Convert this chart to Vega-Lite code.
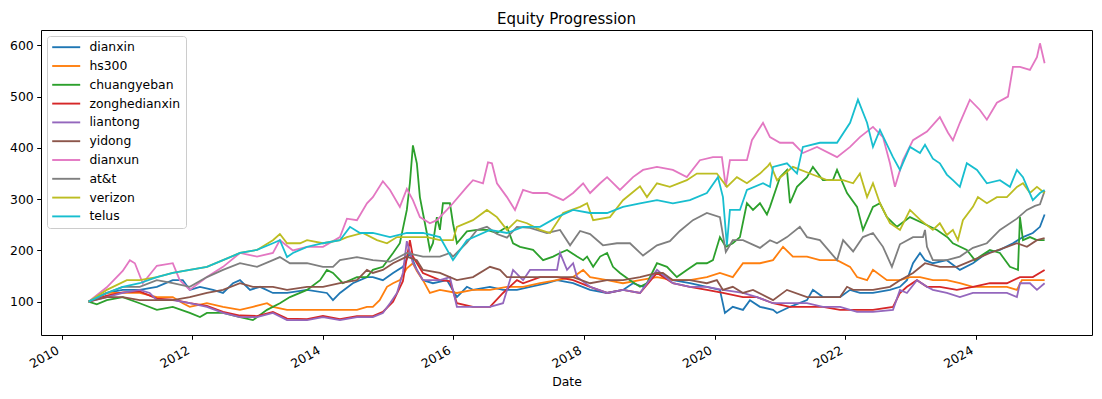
{
  "$schema": "https://vega.github.io/schema/vega-lite/v6.json",
  "width": 1051,
  "height": 305,
  "autosize": {"type": "none"},
  "padding": {"left": 41, "top": 30, "right": 10, "bottom": 64},
  "background": "white",
  "title": {"text": "Equity Progression", "fontSize": 15, "font": "DejaVu Sans", "fontWeight": "normal", "color": "black", "anchor": "middle", "baseline": "bottom", "offset": -12},
  "config": {
    "font": "DejaVu Sans",
    "view": {"stroke": "black", "strokeWidth": 1},
    "axis": {"grid": false, "domain": false, "tickColor": "black", "tickSize": 4.3, "tickWidth": 1, "labelColor": "black", "labelFontSize": 12.4, "labelFont": "DejaVu Sans", "titleColor": "black", "titleFontSize": 12.4, "titleFontWeight": "normal", "titleFont": "DejaVu Sans"},
    "legend": {"orient": "top-left", "offset": 6, "title": null, "strokeColor": "#cccccc", "fillColor": "rgba(255,255,255,0.8)", "cornerRadius": 3, "padding": 5, "symbolType": "M-1.2,0H4.4", "symbolSize": 100, "symbolStrokeWidth": 1.9, "labelFontSize": 12.4, "labelFont": "DejaVu Sans", "labelColor": "black", "labelOffset": 25, "rowPadding": 5.8}
  },
  "encoding": {
    "x": {"field": "Date", "type": "temporal", "title": "Date",
      "scale": {"domain": [{"year": 2009, "month": 9, "date": 8}, {"year": 2025, "month": 10, "date": 12}]},
      "axis": {"values": [{"year": 2010, "month": 1, "date": 1}, {"year": 2012, "month": 1, "date": 1}, {"year": 2014, "month": 1, "date": 1}, {"year": 2016, "month": 1, "date": 1}, {"year": 2018, "month": 1, "date": 1}, {"year": 2020, "month": 1, "date": 1}, {"year": 2022, "month": 1, "date": 1}, {"year": 2024, "month": 1, "date": 1}], "format": "%Y", "labelAngle": -30, "labelAlign": "right", "labelBaseline": "top", "labelPadding": 4.3, "labelOffset": -7, "labelFlush": false, "labelOverlap": false, "titlePadding": 5}},
    "y": {"field": "v", "type": "quantitative", "title": null,
      "scale": {"domain": [35, 630], "nice": false, "zero": false},
      "axis": {"values": [100, 200, 300, 400, 500, 600], "labelPadding": 3.5}}
  },
  "layer": [
    {"data": {"name": "dianxin"}, "mark": {"type": "line", "strokeWidth": 1.8},
     "encoding": {"color": {"datum": "dianxin", "type": "nominal",
       "scale": {"domain": ["dianxin", "hs300", "chuangyeban", "zonghedianxin", "liantong", "yidong", "dianxun", "at&t", "verizon", "telus"],
                 "range": ["#1f77b4", "#ff7f0e", "#2ca02c", "#d62728", "#9467bd", "#8c564b", "#e377c2", "#7f7f7f", "#bcbd22", "#17becf"]}}}},
    {"data": {"name": "hs300"}, "mark": {"type": "line", "strokeWidth": 1.8}, "encoding": {"color": {"datum": "hs300", "type": "nominal"}}},
    {"data": {"name": "chuangyeban"}, "mark": {"type": "line", "strokeWidth": 1.8}, "encoding": {"color": {"datum": "chuangyeban", "type": "nominal"}}},
    {"data": {"name": "zonghedianxin"}, "mark": {"type": "line", "strokeWidth": 1.8}, "encoding": {"color": {"datum": "zonghedianxin", "type": "nominal"}}},
    {"data": {"name": "liantong"}, "mark": {"type": "line", "strokeWidth": 1.8}, "encoding": {"color": {"datum": "liantong", "type": "nominal"}}},
    {"data": {"name": "yidong"}, "mark": {"type": "line", "strokeWidth": 1.8}, "encoding": {"color": {"datum": "yidong", "type": "nominal"}}},
    {"data": {"name": "dianxun"}, "mark": {"type": "line", "strokeWidth": 1.8}, "encoding": {"color": {"datum": "dianxun", "type": "nominal"}}},
    {"data": {"name": "att"}, "mark": {"type": "line", "strokeWidth": 1.8}, "encoding": {"color": {"datum": "at&t", "type": "nominal"}}},
    {"data": {"name": "verizon"}, "mark": {"type": "line", "strokeWidth": 1.8}, "encoding": {"color": {"datum": "verizon", "type": "nominal"}}},
    {"data": {"name": "telus"}, "mark": {"type": "line", "strokeWidth": 1.8}, "encoding": {"color": {"datum": "telus", "type": "nominal"}}}
  ],
  "datasets": {
    "dianxin": [
      {"Date": "2010-06-01", "v": 100}, {"Date": "2010-09-11", "v": 117}, {"Date": "2010-12-09", "v": 123}, {"Date": "2011-03-14", "v": 123}, {"Date": "2011-06-18", "v": 129}, {"Date": "2011-09-15", "v": 142}, {"Date": "2011-11-10", "v": 142}, {"Date": "2011-12-19", "v": 123}, {"Date": "2012-02-14", "v": 129}, {"Date": "2012-04-27", "v": 123}, {"Date": "2012-06-22", "v": 117}, {"Date": "2012-08-17", "v": 136}, {"Date": "2012-09-25", "v": 142}, {"Date": "2012-11-20", "v": 123}, {"Date": "2013-01-15", "v": 129}, {"Date": "2013-03-28", "v": 117}, {"Date": "2013-06-15", "v": 117}, {"Date": "2013-10-05", "v": 123}, {"Date": "2014-01-24", "v": 117}, {"Date": "2014-02-27", "v": 103}, {"Date": "2014-04-07", "v": 117}, {"Date": "2014-06-18", "v": 136}, {"Date": "2014-09-05", "v": 148}, {"Date": "2014-10-08", "v": 148}, {"Date": "2014-12-03", "v": 142}, {"Date": "2015-01-29", "v": 156}, {"Date": "2015-03-25", "v": 168}, {"Date": "2015-05-03", "v": 195}, {"Date": "2015-06-11", "v": 162}, {"Date": "2015-07-15", "v": 142}, {"Date": "2015-09-09", "v": 136}, {"Date": "2015-11-26", "v": 142}, {"Date": "2016-01-21", "v": 109}, {"Date": "2016-03-17", "v": 129}, {"Date": "2016-04-20", "v": 123}, {"Date": "2016-07-24", "v": 129}, {"Date": "2016-10-05", "v": 123}, {"Date": "2016-12-22", "v": 123}, {"Date": "2017-03-05", "v": 129}, {"Date": "2017-06-08", "v": 136}, {"Date": "2017-08-03", "v": 142}, {"Date": "2017-11-01", "v": 136}, {"Date": "2018-02-04", "v": 123}, {"Date": "2018-05-10", "v": 117}, {"Date": "2018-08-07", "v": 123}, {"Date": "2018-10-02", "v": 136}, {"Date": "2018-11-27", "v": 129}, {"Date": "2019-02-13", "v": 156}, {"Date": "2019-05-13", "v": 142}, {"Date": "2019-08-16", "v": 136}, {"Date": "2019-11-19", "v": 129}, {"Date": "2020-01-31", "v": 123}, {"Date": "2020-02-28", "v": 78}, {"Date": "2020-04-12", "v": 90}, {"Date": "2020-06-08", "v": 84}, {"Date": "2020-07-17", "v": 103}, {"Date": "2020-09-11", "v": 90}, {"Date": "2020-11-23", "v": 84}, {"Date": "2020-12-15", "v": 78}, {"Date": "2021-02-26", "v": 90}, {"Date": "2021-06-01", "v": 103}, {"Date": "2021-07-04", "v": 123}, {"Date": "2021-08-29", "v": 109}, {"Date": "2021-12-03", "v": 109}, {"Date": "2022-01-28", "v": 123}, {"Date": "2022-03-24", "v": 117}, {"Date": "2022-06-05", "v": 117}, {"Date": "2022-09-08", "v": 123}, {"Date": "2022-11-03", "v": 129}, {"Date": "2022-12-12", "v": 142}, {"Date": "2023-01-15", "v": 175}, {"Date": "2023-02-23", "v": 195}, {"Date": "2023-03-23", "v": 181}, {"Date": "2023-05-06", "v": 175}, {"Date": "2023-07-23", "v": 181}, {"Date": "2023-10-04", "v": 162}, {"Date": "2023-12-16", "v": 175}, {"Date": "2024-03-03", "v": 195}, {"Date": "2024-05-15", "v": 201}, {"Date": "2024-07-27", "v": 214}, {"Date": "2024-09-21", "v": 226}, {"Date": "2024-11-15", "v": 234}, {"Date": "2024-12-25", "v": 246}, {"Date": "2025-01-20", "v": 270}
    ],
    "hs300": [
      {"Date": "2010-06-01", "v": 100}, {"Date": "2010-09-11", "v": 117}, {"Date": "2010-12-09", "v": 117}, {"Date": "2011-03-14", "v": 117}, {"Date": "2011-06-18", "v": 109}, {"Date": "2011-09-15", "v": 109}, {"Date": "2011-11-10", "v": 97}, {"Date": "2011-12-19", "v": 90}, {"Date": "2012-03-24", "v": 97}, {"Date": "2012-06-22", "v": 90}, {"Date": "2012-09-25", "v": 84}, {"Date": "2012-12-06", "v": 90}, {"Date": "2013-02-23", "v": 97}, {"Date": "2013-03-28", "v": 90}, {"Date": "2013-06-15", "v": 84}, {"Date": "2013-10-05", "v": 84}, {"Date": "2014-01-02", "v": 84}, {"Date": "2014-04-07", "v": 84}, {"Date": "2014-07-11", "v": 84}, {"Date": "2014-09-05", "v": 90}, {"Date": "2014-10-08", "v": 90}, {"Date": "2014-11-15", "v": 103}, {"Date": "2014-12-26", "v": 129}, {"Date": "2015-01-29", "v": 136}, {"Date": "2015-03-08", "v": 142}, {"Date": "2015-04-16", "v": 165}, {"Date": "2015-05-20", "v": 175}, {"Date": "2015-06-11", "v": 160}, {"Date": "2015-07-15", "v": 142}, {"Date": "2015-08-23", "v": 117}, {"Date": "2015-10-18", "v": 123}, {"Date": "2016-01-21", "v": 117}, {"Date": "2016-04-20", "v": 123}, {"Date": "2016-07-24", "v": 123}, {"Date": "2016-10-27", "v": 129}, {"Date": "2017-01-25", "v": 129}, {"Date": "2017-04-30", "v": 136}, {"Date": "2017-08-03", "v": 142}, {"Date": "2017-11-01", "v": 148}, {"Date": "2017-12-27", "v": 162}, {"Date": "2018-02-04", "v": 148}, {"Date": "2018-05-10", "v": 142}, {"Date": "2018-08-07", "v": 136}, {"Date": "2018-11-10", "v": 142}, {"Date": "2019-02-13", "v": 148}, {"Date": "2019-05-13", "v": 142}, {"Date": "2019-08-16", "v": 142}, {"Date": "2019-11-19", "v": 148}, {"Date": "2020-01-31", "v": 156}, {"Date": "2020-04-12", "v": 148}, {"Date": "2020-06-08", "v": 175}, {"Date": "2020-09-11", "v": 175}, {"Date": "2020-11-23", "v": 181}, {"Date": "2021-01-18", "v": 207}, {"Date": "2021-03-14", "v": 188}, {"Date": "2021-06-01", "v": 188}, {"Date": "2021-08-12", "v": 181}, {"Date": "2021-11-16", "v": 181}, {"Date": "2022-01-28", "v": 168}, {"Date": "2022-03-08", "v": 148}, {"Date": "2022-05-03", "v": 142}, {"Date": "2022-06-05", "v": 162}, {"Date": "2022-08-22", "v": 142}, {"Date": "2022-11-03", "v": 142}, {"Date": "2022-12-29", "v": 148}, {"Date": "2023-02-23", "v": 148}, {"Date": "2023-05-06", "v": 142}, {"Date": "2023-07-23", "v": 142}, {"Date": "2023-10-04", "v": 136}, {"Date": "2023-12-16", "v": 129}, {"Date": "2024-03-20", "v": 129}, {"Date": "2024-06-23", "v": 129}, {"Date": "2024-08-18", "v": 123}, {"Date": "2024-09-15", "v": 142}, {"Date": "2024-11-15", "v": 142}, {"Date": "2025-01-20", "v": 142}
    ],
    "chuangyeban": [
      {"Date": "2010-06-01", "v": 100}, {"Date": "2010-07-17", "v": 95}, {"Date": "2010-09-11", "v": 103}, {"Date": "2010-12-09", "v": 109}, {"Date": "2011-03-14", "v": 97}, {"Date": "2011-06-18", "v": 84}, {"Date": "2011-09-15", "v": 90}, {"Date": "2011-12-19", "v": 78}, {"Date": "2012-02-14", "v": 70}, {"Date": "2012-03-24", "v": 78}, {"Date": "2012-06-22", "v": 78}, {"Date": "2012-09-25", "v": 70}, {"Date": "2012-12-06", "v": 64}, {"Date": "2013-02-23", "v": 84}, {"Date": "2013-05-06", "v": 97}, {"Date": "2013-07-01", "v": 109}, {"Date": "2013-10-05", "v": 123}, {"Date": "2013-12-17", "v": 142}, {"Date": "2014-01-24", "v": 162}, {"Date": "2014-02-27", "v": 156}, {"Date": "2014-04-23", "v": 136}, {"Date": "2014-07-11", "v": 148}, {"Date": "2014-09-05", "v": 148}, {"Date": "2014-10-08", "v": 162}, {"Date": "2014-12-03", "v": 168}, {"Date": "2015-01-29", "v": 195}, {"Date": "2015-03-08", "v": 214}, {"Date": "2015-04-16", "v": 279}, {"Date": "2015-05-03", "v": 331}, {"Date": "2015-05-20", "v": 405}, {"Date": "2015-06-11", "v": 370}, {"Date": "2015-06-28", "v": 304}, {"Date": "2015-07-15", "v": 273}, {"Date": "2015-08-06", "v": 234}, {"Date": "2015-08-23", "v": 201}, {"Date": "2015-09-09", "v": 214}, {"Date": "2015-10-01", "v": 265}, {"Date": "2015-10-18", "v": 240}, {"Date": "2015-11-04", "v": 292}, {"Date": "2015-12-13", "v": 292}, {"Date": "2015-12-30", "v": 253}, {"Date": "2016-01-21", "v": 214}, {"Date": "2016-03-17", "v": 237}, {"Date": "2016-05-12", "v": 240}, {"Date": "2016-07-07", "v": 240}, {"Date": "2016-09-01", "v": 234}, {"Date": "2016-10-27", "v": 246}, {"Date": "2016-11-30", "v": 214}, {"Date": "2017-01-08", "v": 207}, {"Date": "2017-03-22", "v": 201}, {"Date": "2017-05-17", "v": 181}, {"Date": "2017-07-12", "v": 188}, {"Date": "2017-08-20", "v": 195}, {"Date": "2017-09-28", "v": 201}, {"Date": "2017-11-23", "v": 188}, {"Date": "2017-12-27", "v": 181}, {"Date": "2018-01-18", "v": 188}, {"Date": "2018-02-21", "v": 168}, {"Date": "2018-04-01", "v": 188}, {"Date": "2018-05-10", "v": 195}, {"Date": "2018-06-12", "v": 168}, {"Date": "2018-07-21", "v": 156}, {"Date": "2018-09-15", "v": 142}, {"Date": "2018-11-10", "v": 129}, {"Date": "2018-12-19", "v": 136}, {"Date": "2019-02-13", "v": 175}, {"Date": "2019-04-10", "v": 168}, {"Date": "2019-06-04", "v": 148}, {"Date": "2019-07-30", "v": 162}, {"Date": "2019-09-24", "v": 175}, {"Date": "2019-11-19", "v": 175}, {"Date": "2019-12-23", "v": 181}, {"Date": "2020-01-31", "v": 226}, {"Date": "2020-03-04", "v": 207}, {"Date": "2020-04-12", "v": 214}, {"Date": "2020-05-22", "v": 226}, {"Date": "2020-06-30", "v": 292}, {"Date": "2020-08-03", "v": 279}, {"Date": "2020-09-11", "v": 292}, {"Date": "2020-10-20", "v": 270}, {"Date": "2020-11-06", "v": 285}, {"Date": "2021-01-01", "v": 343}, {"Date": "2021-02-09", "v": 357}, {"Date": "2021-02-26", "v": 292}, {"Date": "2021-04-06", "v": 324}, {"Date": "2021-06-01", "v": 343}, {"Date": "2021-07-04", "v": 363}, {"Date": "2021-08-29", "v": 337}, {"Date": "2021-10-24", "v": 337}, {"Date": "2021-11-16", "v": 357}, {"Date": "2022-01-11", "v": 312}, {"Date": "2022-03-08", "v": 285}, {"Date": "2022-04-10", "v": 240}, {"Date": "2022-06-05", "v": 285}, {"Date": "2022-07-14", "v": 292}, {"Date": "2022-08-22", "v": 265}, {"Date": "2022-10-17", "v": 246}, {"Date": "2022-12-29", "v": 265}, {"Date": "2023-03-12", "v": 253}, {"Date": "2023-05-29", "v": 240}, {"Date": "2023-07-29", "v": 225}, {"Date": "2023-08-26", "v": 214}, {"Date": "2023-11-12", "v": 201}, {"Date": "2023-12-27", "v": 181}, {"Date": "2024-01-24", "v": 188}, {"Date": "2024-03-20", "v": 201}, {"Date": "2024-05-15", "v": 195}, {"Date": "2024-07-10", "v": 168}, {"Date": "2024-08-24", "v": 162}, {"Date": "2024-09-04", "v": 265}, {"Date": "2024-09-21", "v": 220}, {"Date": "2024-10-30", "v": 226}, {"Date": "2024-12-08", "v": 220}, {"Date": "2025-01-20", "v": 220}
    ],
    "zonghedianxin": [
      {"Date": "2010-06-01", "v": 100}, {"Date": "2010-09-11", "v": 112}, {"Date": "2010-12-09", "v": 118}, {"Date": "2011-03-14", "v": 120}, {"Date": "2011-06-18", "v": 106}, {"Date": "2011-09-15", "v": 104}, {"Date": "2011-12-19", "v": 97}, {"Date": "2012-03-24", "v": 92}, {"Date": "2012-06-22", "v": 80}, {"Date": "2012-09-25", "v": 73}, {"Date": "2012-12-29", "v": 72}, {"Date": "2013-03-28", "v": 80}, {"Date": "2013-06-15", "v": 67}, {"Date": "2013-10-05", "v": 66}, {"Date": "2014-01-02", "v": 72}, {"Date": "2014-04-07", "v": 66}, {"Date": "2014-07-11", "v": 72}, {"Date": "2014-10-08", "v": 72}, {"Date": "2014-12-03", "v": 80}, {"Date": "2015-01-29", "v": 100}, {"Date": "2015-03-25", "v": 140}, {"Date": "2015-05-03", "v": 220}, {"Date": "2015-05-20", "v": 188}, {"Date": "2015-07-15", "v": 156}, {"Date": "2015-10-18", "v": 142}, {"Date": "2015-12-13", "v": 140}, {"Date": "2016-01-21", "v": 97}, {"Date": "2016-04-20", "v": 90}, {"Date": "2016-07-24", "v": 90}, {"Date": "2016-10-05", "v": 117}, {"Date": "2016-12-22", "v": 142}, {"Date": "2017-01-25", "v": 136}, {"Date": "2017-04-30", "v": 148}, {"Date": "2017-08-03", "v": 148}, {"Date": "2017-11-01", "v": 142}, {"Date": "2018-02-04", "v": 129}, {"Date": "2018-05-10", "v": 117}, {"Date": "2018-08-07", "v": 123}, {"Date": "2018-11-10", "v": 117}, {"Date": "2019-02-13", "v": 156}, {"Date": "2019-05-13", "v": 136}, {"Date": "2019-08-16", "v": 129}, {"Date": "2019-11-19", "v": 123}, {"Date": "2020-02-17", "v": 117}, {"Date": "2020-06-08", "v": 109}, {"Date": "2020-08-25", "v": 109}, {"Date": "2020-11-23", "v": 97}, {"Date": "2021-02-26", "v": 90}, {"Date": "2021-06-01", "v": 90}, {"Date": "2021-08-29", "v": 90}, {"Date": "2021-12-03", "v": 84}, {"Date": "2022-03-08", "v": 84}, {"Date": "2022-06-05", "v": 84}, {"Date": "2022-09-25", "v": 90}, {"Date": "2022-11-03", "v": 117}, {"Date": "2022-12-12", "v": 129}, {"Date": "2023-02-06", "v": 142}, {"Date": "2023-04-03", "v": 129}, {"Date": "2023-06-14", "v": 129}, {"Date": "2023-09-17", "v": 123}, {"Date": "2023-12-16", "v": 129}, {"Date": "2024-03-20", "v": 136}, {"Date": "2024-06-23", "v": 136}, {"Date": "2024-09-04", "v": 148}, {"Date": "2024-11-15", "v": 148}, {"Date": "2025-01-20", "v": 162}
    ],
    "liantong": [
      {"Date": "2010-06-01", "v": 100}, {"Date": "2010-09-11", "v": 109}, {"Date": "2010-12-09", "v": 117}, {"Date": "2011-03-14", "v": 123}, {"Date": "2011-05-09", "v": 117}, {"Date": "2011-06-18", "v": 103}, {"Date": "2011-09-15", "v": 103}, {"Date": "2011-12-19", "v": 97}, {"Date": "2012-03-24", "v": 90}, {"Date": "2012-06-22", "v": 78}, {"Date": "2012-09-25", "v": 70}, {"Date": "2012-12-29", "v": 70}, {"Date": "2013-03-28", "v": 78}, {"Date": "2013-06-15", "v": 64}, {"Date": "2013-10-05", "v": 64}, {"Date": "2014-01-02", "v": 70}, {"Date": "2014-04-07", "v": 64}, {"Date": "2014-07-11", "v": 70}, {"Date": "2014-10-08", "v": 70}, {"Date": "2014-12-03", "v": 78}, {"Date": "2015-01-12", "v": 97}, {"Date": "2015-02-20", "v": 117}, {"Date": "2015-03-25", "v": 156}, {"Date": "2015-04-16", "v": 218}, {"Date": "2015-05-20", "v": 175}, {"Date": "2015-07-15", "v": 142}, {"Date": "2015-10-18", "v": 142}, {"Date": "2015-12-13", "v": 148}, {"Date": "2016-01-21", "v": 90}, {"Date": "2016-04-20", "v": 90}, {"Date": "2016-07-24", "v": 90}, {"Date": "2016-10-05", "v": 97}, {"Date": "2016-11-30", "v": 162}, {"Date": "2017-01-25", "v": 142}, {"Date": "2017-03-05", "v": 162}, {"Date": "2017-08-03", "v": 162}, {"Date": "2017-08-20", "v": 195}, {"Date": "2017-09-28", "v": 162}, {"Date": "2017-11-01", "v": 175}, {"Date": "2017-11-23", "v": 148}, {"Date": "2018-02-04", "v": 129}, {"Date": "2018-05-10", "v": 117}, {"Date": "2018-08-07", "v": 123}, {"Date": "2018-11-10", "v": 117}, {"Date": "2019-02-13", "v": 162}, {"Date": "2019-05-13", "v": 136}, {"Date": "2019-08-16", "v": 129}, {"Date": "2019-11-19", "v": 129}, {"Date": "2020-02-17", "v": 123}, {"Date": "2020-06-08", "v": 117}, {"Date": "2020-08-25", "v": 109}, {"Date": "2020-11-23", "v": 97}, {"Date": "2021-02-26", "v": 97}, {"Date": "2021-06-01", "v": 97}, {"Date": "2021-08-29", "v": 90}, {"Date": "2021-12-03", "v": 90}, {"Date": "2022-03-08", "v": 80}, {"Date": "2022-06-05", "v": 80}, {"Date": "2022-09-25", "v": 84}, {"Date": "2022-11-03", "v": 123}, {"Date": "2022-12-12", "v": 117}, {"Date": "2023-02-06", "v": 142}, {"Date": "2023-04-03", "v": 129}, {"Date": "2023-05-06", "v": 123}, {"Date": "2023-07-23", "v": 117}, {"Date": "2023-10-04", "v": 109}, {"Date": "2023-12-16", "v": 117}, {"Date": "2024-03-20", "v": 117}, {"Date": "2024-06-23", "v": 117}, {"Date": "2024-08-18", "v": 109}, {"Date": "2024-09-04", "v": 136}, {"Date": "2024-10-30", "v": 136}, {"Date": "2024-12-08", "v": 123}, {"Date": "2025-01-20", "v": 136}
    ],
    "yidong": [
      {"Date": "2010-06-01", "v": 100}, {"Date": "2010-09-11", "v": 109}, {"Date": "2010-12-09", "v": 109}, {"Date": "2011-03-14", "v": 103}, {"Date": "2011-06-18", "v": 103}, {"Date": "2011-09-15", "v": 103}, {"Date": "2011-12-19", "v": 109}, {"Date": "2012-03-24", "v": 117}, {"Date": "2012-06-22", "v": 123}, {"Date": "2012-09-25", "v": 136}, {"Date": "2012-12-06", "v": 129}, {"Date": "2013-03-28", "v": 129}, {"Date": "2013-06-15", "v": 123}, {"Date": "2013-10-05", "v": 129}, {"Date": "2014-01-02", "v": 129}, {"Date": "2014-04-07", "v": 136}, {"Date": "2014-07-11", "v": 142}, {"Date": "2014-09-05", "v": 162}, {"Date": "2014-10-08", "v": 156}, {"Date": "2014-12-03", "v": 162}, {"Date": "2015-01-29", "v": 175}, {"Date": "2015-04-16", "v": 188}, {"Date": "2015-06-11", "v": 181}, {"Date": "2015-07-15", "v": 162}, {"Date": "2015-10-18", "v": 156}, {"Date": "2016-01-21", "v": 142}, {"Date": "2016-04-20", "v": 148}, {"Date": "2016-07-24", "v": 168}, {"Date": "2016-09-18", "v": 162}, {"Date": "2016-10-27", "v": 148}, {"Date": "2017-01-25", "v": 148}, {"Date": "2017-04-30", "v": 148}, {"Date": "2017-08-03", "v": 148}, {"Date": "2017-11-01", "v": 148}, {"Date": "2018-02-04", "v": 136}, {"Date": "2018-05-10", "v": 142}, {"Date": "2018-08-07", "v": 142}, {"Date": "2018-11-10", "v": 148}, {"Date": "2019-02-13", "v": 156}, {"Date": "2019-03-18", "v": 156}, {"Date": "2019-05-13", "v": 142}, {"Date": "2019-08-16", "v": 142}, {"Date": "2019-11-19", "v": 136}, {"Date": "2020-01-14", "v": 142}, {"Date": "2020-02-17", "v": 123}, {"Date": "2020-04-12", "v": 129}, {"Date": "2020-06-08", "v": 117}, {"Date": "2020-08-03", "v": 123}, {"Date": "2020-11-23", "v": 103}, {"Date": "2021-02-09", "v": 123}, {"Date": "2021-06-01", "v": 109}, {"Date": "2021-08-29", "v": 109}, {"Date": "2021-12-03", "v": 109}, {"Date": "2022-01-11", "v": 129}, {"Date": "2022-02-14", "v": 123}, {"Date": "2022-06-05", "v": 123}, {"Date": "2022-09-08", "v": 129}, {"Date": "2022-11-03", "v": 142}, {"Date": "2023-01-15", "v": 156}, {"Date": "2023-03-23", "v": 175}, {"Date": "2023-06-14", "v": 168}, {"Date": "2023-09-17", "v": 168}, {"Date": "2023-12-16", "v": 181}, {"Date": "2024-03-20", "v": 195}, {"Date": "2024-06-23", "v": 207}, {"Date": "2024-08-18", "v": 214}, {"Date": "2024-10-13", "v": 207}, {"Date": "2024-12-08", "v": 220}, {"Date": "2025-01-20", "v": 224}
    ],
    "dianxun": [
      {"Date": "2010-06-01", "v": 100}, {"Date": "2010-09-11", "v": 128}, {"Date": "2010-12-09", "v": 160}, {"Date": "2011-01-18", "v": 181}, {"Date": "2011-02-15", "v": 175}, {"Date": "2011-03-31", "v": 136}, {"Date": "2011-06-18", "v": 170}, {"Date": "2011-09-15", "v": 175}, {"Date": "2011-10-24", "v": 142}, {"Date": "2011-12-19", "v": 123}, {"Date": "2012-03-24", "v": 148}, {"Date": "2012-06-22", "v": 168}, {"Date": "2012-09-25", "v": 195}, {"Date": "2012-12-29", "v": 188}, {"Date": "2013-03-28", "v": 195}, {"Date": "2013-05-06", "v": 220}, {"Date": "2013-07-18", "v": 200}, {"Date": "2013-10-05", "v": 207}, {"Date": "2014-01-02", "v": 207}, {"Date": "2014-04-07", "v": 226}, {"Date": "2014-05-16", "v": 262}, {"Date": "2014-07-11", "v": 259}, {"Date": "2014-09-05", "v": 292}, {"Date": "2014-10-08", "v": 304}, {"Date": "2014-12-03", "v": 335}, {"Date": "2015-01-12", "v": 318}, {"Date": "2015-03-08", "v": 285}, {"Date": "2015-04-16", "v": 320}, {"Date": "2015-05-20", "v": 298}, {"Date": "2015-06-28", "v": 265}, {"Date": "2015-08-23", "v": 253}, {"Date": "2015-10-01", "v": 259}, {"Date": "2015-11-26", "v": 279}, {"Date": "2015-12-30", "v": 292}, {"Date": "2016-03-17", "v": 324}, {"Date": "2016-04-20", "v": 337}, {"Date": "2016-06-15", "v": 331}, {"Date": "2016-07-13", "v": 372}, {"Date": "2016-08-04", "v": 370}, {"Date": "2016-09-01", "v": 331}, {"Date": "2016-10-27", "v": 304}, {"Date": "2016-12-11", "v": 279}, {"Date": "2017-01-25", "v": 318}, {"Date": "2017-03-22", "v": 312}, {"Date": "2017-06-08", "v": 312}, {"Date": "2017-09-06", "v": 298}, {"Date": "2017-11-01", "v": 312}, {"Date": "2017-12-27", "v": 331}, {"Date": "2018-02-04", "v": 312}, {"Date": "2018-04-01", "v": 331}, {"Date": "2018-05-10", "v": 343}, {"Date": "2018-07-21", "v": 318}, {"Date": "2018-10-02", "v": 343}, {"Date": "2018-11-27", "v": 357}, {"Date": "2019-02-13", "v": 363}, {"Date": "2019-05-13", "v": 357}, {"Date": "2019-07-30", "v": 343}, {"Date": "2019-10-11", "v": 376}, {"Date": "2019-12-23", "v": 382}, {"Date": "2020-02-11", "v": 382}, {"Date": "2020-03-04", "v": 324}, {"Date": "2020-03-27", "v": 376}, {"Date": "2020-06-30", "v": 376}, {"Date": "2020-07-28", "v": 415}, {"Date": "2020-09-28", "v": 449}, {"Date": "2020-11-06", "v": 421}, {"Date": "2021-01-01", "v": 410}, {"Date": "2021-03-14", "v": 410}, {"Date": "2021-05-09", "v": 390}, {"Date": "2021-07-27", "v": 402}, {"Date": "2021-11-16", "v": 382}, {"Date": "2022-01-28", "v": 402}, {"Date": "2022-03-24", "v": 421}, {"Date": "2022-06-05", "v": 441}, {"Date": "2022-07-31", "v": 421}, {"Date": "2022-09-08", "v": 370}, {"Date": "2022-10-06", "v": 324}, {"Date": "2022-11-20", "v": 376}, {"Date": "2023-01-15", "v": 415}, {"Date": "2023-04-03", "v": 432}, {"Date": "2023-06-14", "v": 460}, {"Date": "2023-07-29", "v": 430}, {"Date": "2023-08-26", "v": 415}, {"Date": "2023-10-04", "v": 449}, {"Date": "2023-11-29", "v": 494}, {"Date": "2024-01-24", "v": 474}, {"Date": "2024-03-03", "v": 455}, {"Date": "2024-04-28", "v": 488}, {"Date": "2024-06-29", "v": 500}, {"Date": "2024-07-27", "v": 558}, {"Date": "2024-09-04", "v": 558}, {"Date": "2024-10-30", "v": 552}, {"Date": "2024-12-08", "v": 577}, {"Date": "2024-12-25", "v": 604}, {"Date": "2025-01-20", "v": 565}
    ],
    "att": [
      {"Date": "2010-06-01", "v": 100}, {"Date": "2010-09-11", "v": 117}, {"Date": "2010-12-09", "v": 129}, {"Date": "2011-03-14", "v": 129}, {"Date": "2011-06-18", "v": 142}, {"Date": "2011-09-15", "v": 136}, {"Date": "2011-12-19", "v": 129}, {"Date": "2012-03-24", "v": 148}, {"Date": "2012-06-22", "v": 162}, {"Date": "2012-09-25", "v": 175}, {"Date": "2012-12-29", "v": 168}, {"Date": "2013-03-28", "v": 181}, {"Date": "2013-05-06", "v": 187}, {"Date": "2013-07-01", "v": 175}, {"Date": "2013-10-05", "v": 175}, {"Date": "2014-01-02", "v": 168}, {"Date": "2014-02-27", "v": 168}, {"Date": "2014-04-07", "v": 181}, {"Date": "2014-07-11", "v": 187}, {"Date": "2014-10-08", "v": 181}, {"Date": "2015-01-12", "v": 178}, {"Date": "2015-04-16", "v": 195}, {"Date": "2015-07-15", "v": 188}, {"Date": "2015-10-18", "v": 188}, {"Date": "2015-12-13", "v": 195}, {"Date": "2015-12-30", "v": 188}, {"Date": "2016-03-17", "v": 215}, {"Date": "2016-05-12", "v": 240}, {"Date": "2016-07-07", "v": 246}, {"Date": "2016-09-01", "v": 232}, {"Date": "2016-10-27", "v": 225}, {"Date": "2016-12-22", "v": 246}, {"Date": "2017-03-05", "v": 244}, {"Date": "2017-06-08", "v": 234}, {"Date": "2017-08-20", "v": 240}, {"Date": "2017-10-15", "v": 210}, {"Date": "2017-12-10", "v": 238}, {"Date": "2018-02-04", "v": 232}, {"Date": "2018-04-17", "v": 210}, {"Date": "2018-07-04", "v": 214}, {"Date": "2018-09-15", "v": 214}, {"Date": "2018-11-27", "v": 190}, {"Date": "2019-02-13", "v": 210}, {"Date": "2019-04-26", "v": 218}, {"Date": "2019-06-21", "v": 238}, {"Date": "2019-09-02", "v": 259}, {"Date": "2019-11-19", "v": 273}, {"Date": "2020-01-31", "v": 265}, {"Date": "2020-03-04", "v": 197}, {"Date": "2020-04-12", "v": 220}, {"Date": "2020-06-08", "v": 220}, {"Date": "2020-09-11", "v": 205}, {"Date": "2020-11-06", "v": 220}, {"Date": "2020-12-15", "v": 214}, {"Date": "2021-02-09", "v": 226}, {"Date": "2021-04-22", "v": 246}, {"Date": "2021-06-01", "v": 226}, {"Date": "2021-08-12", "v": 220}, {"Date": "2021-11-16", "v": 181}, {"Date": "2021-12-20", "v": 220}, {"Date": "2022-02-14", "v": 198}, {"Date": "2022-04-10", "v": 226}, {"Date": "2022-06-05", "v": 234}, {"Date": "2022-07-31", "v": 207}, {"Date": "2022-09-19", "v": 168}, {"Date": "2022-11-03", "v": 212}, {"Date": "2023-01-15", "v": 226}, {"Date": "2023-03-12", "v": 226}, {"Date": "2023-03-23", "v": 240}, {"Date": "2023-04-03", "v": 207}, {"Date": "2023-05-06", "v": 181}, {"Date": "2023-07-23", "v": 181}, {"Date": "2023-10-04", "v": 188}, {"Date": "2023-12-16", "v": 205}, {"Date": "2024-03-03", "v": 214}, {"Date": "2024-05-15", "v": 240}, {"Date": "2024-08-18", "v": 262}, {"Date": "2024-10-13", "v": 279}, {"Date": "2024-11-27", "v": 287}, {"Date": "2024-12-25", "v": 290}, {"Date": "2025-01-20", "v": 316}
    ],
    "verizon": [
      {"Date": "2010-06-01", "v": 100}, {"Date": "2010-09-11", "v": 123}, {"Date": "2011-01-01", "v": 142}, {"Date": "2011-03-14", "v": 142}, {"Date": "2011-06-18", "v": 148}, {"Date": "2011-09-15", "v": 156}, {"Date": "2011-12-19", "v": 162}, {"Date": "2012-03-24", "v": 168}, {"Date": "2012-06-22", "v": 181}, {"Date": "2012-09-25", "v": 195}, {"Date": "2012-12-29", "v": 201}, {"Date": "2013-03-28", "v": 220}, {"Date": "2013-05-06", "v": 232}, {"Date": "2013-06-15", "v": 214}, {"Date": "2013-08-27", "v": 214}, {"Date": "2013-10-05", "v": 220}, {"Date": "2014-01-02", "v": 214}, {"Date": "2014-04-07", "v": 220}, {"Date": "2014-05-16", "v": 226}, {"Date": "2014-08-13", "v": 234}, {"Date": "2014-10-31", "v": 220}, {"Date": "2014-12-26", "v": 214}, {"Date": "2015-02-20", "v": 226}, {"Date": "2015-04-16", "v": 226}, {"Date": "2015-08-06", "v": 226}, {"Date": "2015-10-18", "v": 220}, {"Date": "2015-12-30", "v": 220}, {"Date": "2016-01-21", "v": 246}, {"Date": "2016-04-20", "v": 259}, {"Date": "2016-07-07", "v": 279}, {"Date": "2016-09-01", "v": 265}, {"Date": "2016-10-27", "v": 240}, {"Date": "2016-12-22", "v": 259}, {"Date": "2017-02-16", "v": 253}, {"Date": "2017-04-30", "v": 240}, {"Date": "2017-06-25", "v": 234}, {"Date": "2017-09-06", "v": 273}, {"Date": "2017-12-10", "v": 285}, {"Date": "2018-01-18", "v": 292}, {"Date": "2018-02-21", "v": 259}, {"Date": "2018-05-26", "v": 265}, {"Date": "2018-08-07", "v": 298}, {"Date": "2018-11-10", "v": 325}, {"Date": "2018-12-19", "v": 304}, {"Date": "2019-02-13", "v": 331}, {"Date": "2019-04-26", "v": 324}, {"Date": "2019-07-30", "v": 337}, {"Date": "2019-09-24", "v": 350}, {"Date": "2020-01-14", "v": 350}, {"Date": "2020-03-10", "v": 324}, {"Date": "2020-05-05", "v": 343}, {"Date": "2020-06-30", "v": 331}, {"Date": "2020-09-11", "v": 350}, {"Date": "2020-10-26", "v": 365}, {"Date": "2020-11-06", "v": 370}, {"Date": "2020-12-15", "v": 337}, {"Date": "2021-03-14", "v": 363}, {"Date": "2021-06-17", "v": 350}, {"Date": "2021-09-21", "v": 337}, {"Date": "2021-12-20", "v": 337}, {"Date": "2022-02-14", "v": 331}, {"Date": "2022-03-24", "v": 350}, {"Date": "2022-05-03", "v": 304}, {"Date": "2022-06-05", "v": 331}, {"Date": "2022-07-14", "v": 292}, {"Date": "2022-09-08", "v": 253}, {"Date": "2022-11-03", "v": 240}, {"Date": "2022-12-29", "v": 279}, {"Date": "2023-02-23", "v": 260}, {"Date": "2023-05-06", "v": 240}, {"Date": "2023-06-14", "v": 253}, {"Date": "2023-07-23", "v": 230}, {"Date": "2023-08-26", "v": 240}, {"Date": "2023-09-23", "v": 220}, {"Date": "2023-10-21", "v": 259}, {"Date": "2023-12-16", "v": 285}, {"Date": "2024-01-13", "v": 304}, {"Date": "2024-03-03", "v": 292}, {"Date": "2024-04-28", "v": 304}, {"Date": "2024-06-23", "v": 304}, {"Date": "2024-08-18", "v": 324}, {"Date": "2024-09-21", "v": 331}, {"Date": "2024-10-30", "v": 312}, {"Date": "2024-12-08", "v": 324}, {"Date": "2025-01-20", "v": 312}
    ],
    "telus": [
      {"Date": "2010-06-01", "v": 100}, {"Date": "2010-09-11", "v": 117}, {"Date": "2010-12-09", "v": 129}, {"Date": "2011-03-14", "v": 136}, {"Date": "2011-06-18", "v": 148}, {"Date": "2011-09-15", "v": 156}, {"Date": "2011-12-19", "v": 162}, {"Date": "2012-03-24", "v": 168}, {"Date": "2012-06-22", "v": 181}, {"Date": "2012-09-25", "v": 195}, {"Date": "2012-12-29", "v": 201}, {"Date": "2013-03-28", "v": 214}, {"Date": "2013-05-06", "v": 220}, {"Date": "2013-06-15", "v": 187}, {"Date": "2013-07-18", "v": 195}, {"Date": "2013-10-05", "v": 207}, {"Date": "2014-01-02", "v": 214}, {"Date": "2014-04-07", "v": 220}, {"Date": "2014-06-02", "v": 246}, {"Date": "2014-07-28", "v": 234}, {"Date": "2014-10-08", "v": 234}, {"Date": "2015-01-12", "v": 226}, {"Date": "2015-04-16", "v": 234}, {"Date": "2015-07-15", "v": 234}, {"Date": "2015-10-18", "v": 226}, {"Date": "2015-12-30", "v": 181}, {"Date": "2016-03-17", "v": 220}, {"Date": "2016-07-24", "v": 240}, {"Date": "2016-10-27", "v": 234}, {"Date": "2017-01-25", "v": 246}, {"Date": "2017-04-30", "v": 246}, {"Date": "2017-08-03", "v": 265}, {"Date": "2017-11-01", "v": 279}, {"Date": "2018-02-04", "v": 273}, {"Date": "2018-05-10", "v": 273}, {"Date": "2018-08-07", "v": 285}, {"Date": "2018-11-10", "v": 292}, {"Date": "2019-02-13", "v": 298}, {"Date": "2019-05-13", "v": 292}, {"Date": "2019-08-16", "v": 298}, {"Date": "2019-11-19", "v": 312}, {"Date": "2020-01-20", "v": 343}, {"Date": "2020-02-17", "v": 304}, {"Date": "2020-03-10", "v": 210}, {"Date": "2020-03-27", "v": 279}, {"Date": "2020-05-22", "v": 279}, {"Date": "2020-06-30", "v": 318}, {"Date": "2020-09-28", "v": 331}, {"Date": "2020-11-06", "v": 324}, {"Date": "2020-11-23", "v": 363}, {"Date": "2021-02-09", "v": 370}, {"Date": "2021-04-06", "v": 350}, {"Date": "2021-05-09", "v": 402}, {"Date": "2021-08-12", "v": 410}, {"Date": "2021-11-16", "v": 410}, {"Date": "2022-01-28", "v": 449}, {"Date": "2022-03-13", "v": 494}, {"Date": "2022-05-03", "v": 449}, {"Date": "2022-06-05", "v": 402}, {"Date": "2022-07-14", "v": 435}, {"Date": "2022-09-25", "v": 382}, {"Date": "2022-11-03", "v": 357}, {"Date": "2022-12-29", "v": 402}, {"Date": "2023-02-23", "v": 390}, {"Date": "2023-03-23", "v": 406}, {"Date": "2023-05-06", "v": 379}, {"Date": "2023-06-14", "v": 370}, {"Date": "2023-07-23", "v": 348}, {"Date": "2023-08-26", "v": 337}, {"Date": "2023-10-04", "v": 324}, {"Date": "2023-11-12", "v": 370}, {"Date": "2024-01-08", "v": 357}, {"Date": "2024-03-03", "v": 331}, {"Date": "2024-05-15", "v": 337}, {"Date": "2024-07-10", "v": 324}, {"Date": "2024-08-18", "v": 357}, {"Date": "2024-09-21", "v": 343}, {"Date": "2024-11-15", "v": 298}, {"Date": "2024-12-25", "v": 312}, {"Date": "2025-01-20", "v": 318}
    ]
  }
}
